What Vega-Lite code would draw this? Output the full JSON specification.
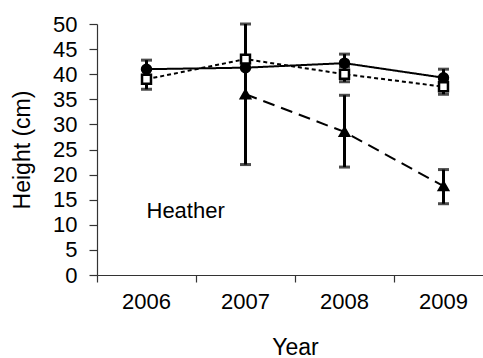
{
  "$schema": "https://vega.github.io/schema/vega-lite/v6.json",
  "autosize": "none",
  "width": 396,
  "height": 251,
  "padding": {"left": 97, "top": 24, "right": 0, "bottom": 83},
  "background": "white",
  "config": {
    "view": {"stroke": null},
    "font": "Liberation Sans",
    "axis": {"grid": false, "domainColor": "#333", "tickColor": "#333", "labelColor": "black", "titleColor": "black", "labelFont": "Liberation Sans", "titleFont": "Liberation Sans", "titleFontWeight": "normal", "labelOverlap": false, "domainWidth": 1.2, "tickWidth": 1.2},
    "axisY": {"labelOverlap": false, "tickCount": 10, "tickSize": 8, "labelPadding": 12, "labelFontSize": 22, "titleFontSize": 23, "titlePadding": 18}
  },
  "datasets": {
    "pts": [
      {"year": "2006", "series": "Circle", "v": 41.0, "lo": 39.2, "hi": 42.8},
      {"year": "2007", "series": "Circle", "v": 41.3, "lo": 41.3, "hi": 41.3},
      {"year": "2008", "series": "Circle", "v": 42.2, "lo": 40.5, "hi": 44.0},
      {"year": "2009", "series": "Circle", "v": 39.3, "lo": 37.6, "hi": 41.0},
      {"year": "2006", "series": "Square", "v": 39.0, "lo": 37.0, "hi": 41.0},
      {"year": "2007", "series": "Square", "v": 43.0, "lo": 43.0, "hi": 43.0},
      {"year": "2008", "series": "Square", "v": 40.0, "lo": 38.5, "hi": 41.5},
      {"year": "2009", "series": "Square", "v": 37.5, "lo": 36.0, "hi": 39.0},
      {"year": "2007", "series": "Triangle", "v": 36.0, "lo": 22.0, "hi": 50.0},
      {"year": "2008", "series": "Triangle", "v": 28.5, "lo": 21.5, "hi": 35.8},
      {"year": "2009", "series": "Triangle", "v": 17.7, "lo": 14.2, "hi": 21.0}
    ],
    "lab": [{"year": "2006", "v": 12.7, "label": "Heather"}]
  },
  "encoding": {
    "x": {
      "field": "year", "type": "ordinal",
      "scale": {"type": "band", "domain": ["2006", "2007", "2008", "2009"], "paddingInner": 0, "paddingOuter": 0},
      "axis": {"title": "Year", "labelAngle": 0, "bandPosition": 0, "tickSize": 7, "labelPadding": 9, "labelFontSize": 22, "titleFontSize": 23, "titlePadding": 24}
    }
  },
  "layer": [
    {
      "data": {"name": "pts"},
      "mark": {"type": "rule", "strokeWidth": 3, "color": "black"},
      "encoding": {
        "y": {"field": "lo", "type": "quantitative", "scale": {"domain": [0, 50], "nice": false},
          "axis": {"title": "Height (cm)", "tickCount": 10}},
        "y2": {"field": "hi"}
      }
    },
    {
      "data": {"name": "pts"},
      "transform": [{"filter": "datum.hi > datum.lo"}],
      "mark": {"type": "tick", "thickness": 3, "size": 11, "color": "black", "orient": "horizontal"},
      "encoding": {"y": {"field": "hi", "type": "quantitative"}}
    },
    {
      "data": {"name": "pts"},
      "transform": [{"filter": "datum.hi > datum.lo"}],
      "mark": {"type": "tick", "thickness": 3, "size": 11, "color": "black", "orient": "horizontal"},
      "encoding": {"y": {"field": "lo", "type": "quantitative"}}
    },
    {
      "data": {"name": "pts"},
      "mark": {"type": "line", "strokeWidth": 2, "color": "black"},
      "encoding": {
        "y": {"field": "v", "type": "quantitative"},
        "detail": {"field": "series"},
        "strokeDash": {"field": "series", "type": "nominal", "scale": {"domain": ["Circle", "Square", "Triangle"], "range": [[1, 0], [4, 3], [12, 7]]}, "legend": null}
      }
    },
    {
      "data": {"name": "pts"},
      "mark": {"type": "point", "filled": false, "strokeWidth": 2.5, "stroke": "black", "opacity": 1, "size": 80},
      "encoding": {
        "y": {"field": "v", "type": "quantitative"},
        "shape": {"field": "series", "type": "nominal", "scale": {"domain": ["Circle", "Square", "Triangle"], "range": ["circle", "square", "triangle-up"]}, "legend": null},
        "fill": {"field": "series", "type": "nominal", "scale": {"domain": ["Circle", "Square", "Triangle"], "range": ["black", "white", "black"]}, "legend": null}
      }
    },
    {
      "data": {"name": "lab"},
      "mark": {"type": "text", "align": "left", "baseline": "middle", "fontSize": 22, "font": "Liberation Sans", "color": "black"},
      "encoding": {
        "y": {"field": "v", "type": "quantitative"},
        "text": {"field": "label"}
      }
    }
  ]
}
